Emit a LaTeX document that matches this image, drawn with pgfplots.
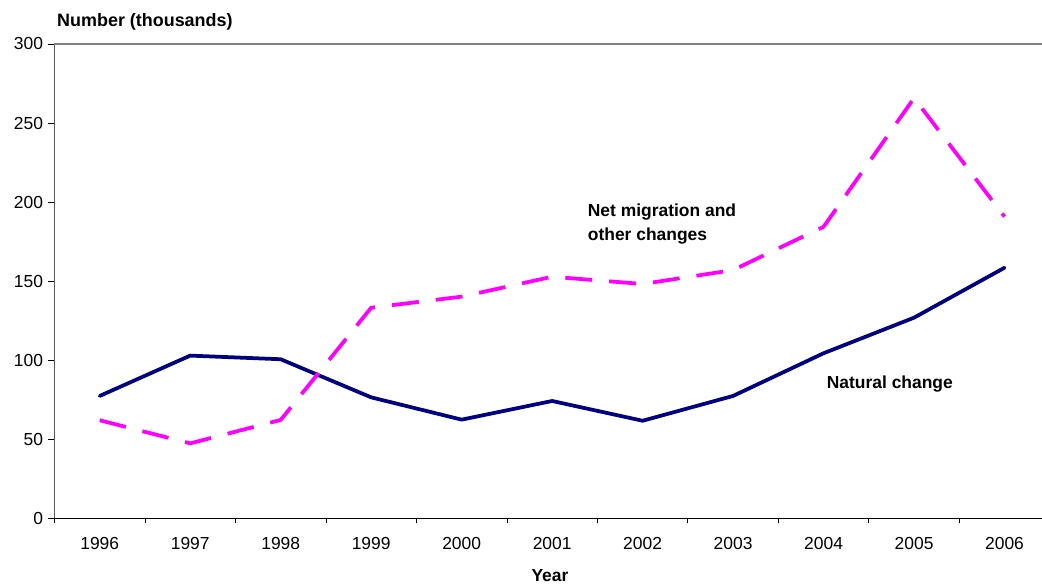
\documentclass[border=0pt]{standalone}
\usepackage{pgfplots}
\pgfplotsset{compat=1.18}
\usepackage{fontspec}
\setmainfont{Liberation Sans}

\definecolor{navyline}{RGB}{0,0,128}
\definecolor{magline}{RGB}{255,0,255}

\begin{document}
\begin{tikzpicture}
\begin{axis}[
  at={(54.5bp,66.7bp)}, anchor=south west,
  width=987.5bp, height=474.3bp, scale only axis,
  xmin=-0.5, xmax=10.414,
  ymin=0, ymax=300,
  clip=false,
  axis line style={draw=none},
  xtick={0,...,10},
  xticklabels={1996,1997,1998,1999,2000,2001,2002,2003,2004,2005,2006},
  major x tick style={draw=none},
  minor xtick={-0.5,0.5,...,9.5},
  minor x tick style={black, line width=0.8bp},
  minor tick length=5bp,
  ytick={0,50,...,300},
  major y tick style={black, line width=0.8bp},
  major tick length=6bp,
  tick align=outside,
  tick pos=left,
  xticklabel style={font=\fontsize{17.5}{21}\selectfont, yshift=-10bp},
  yticklabel style={font=\fontsize{17.5}{21}\selectfont, xshift=-2bp},
  /pgf/number format/assume math mode=true,
]
% frame of the plot area
\draw[gray!70!black, line width=1bp] (rel axis cs:0,0) -- (rel axis cs:0,1);
\draw[gray, line width=1.5bp] (rel axis cs:0,1) -- (rel axis cs:1,1);
\draw[black, line width=1bp] (rel axis cs:0,0) -- (rel axis cs:1,0);

% natural change
\addplot[navyline, line width=3.75bp, line join=round, line cap=round] coordinates {
  (0,77.4) (1,102.9) (2,100.6) (3,76.5) (4,62.4) (5,74.2)
  (6,61.7) (7,77.4) (8,104.4) (9,126.9) (10,158.5)
};
% net migration and other changes
\addplot[magline, line width=3.75bp, dash pattern=on 27bp off 17bp, line join=round] coordinates {
  (0,62.0) (1,47.4) (2,62.2) (3,133.2) (4,140.2) (5,152.8)
  (6,148.2) (7,157.0) (8,184.4) (9,265.8) (10,190.8)
};

\node[anchor=base west, font=\bfseries\fontsize{17.5}{21}\selectfont, inner sep=0pt]
  at (axis cs:5.393,190.7) {Net migration and};
\node[anchor=base west, font=\bfseries\fontsize{17.5}{21}\selectfont, inner sep=0pt]
  at (axis cs:5.393,176.0) {other changes};
\node[anchor=base west, font=\bfseries\fontsize{17.5}{21}\selectfont, inner sep=0pt]
  at (axis cs:8.034,81.8) {Natural change};
\node[anchor=base west, font=\bfseries\fontsize{18}{21}\selectfont, inner sep=0pt]
  at (axis cs:-0.472,310.8) {Number (thousands)};
\node[anchor=base, font=\bfseries\fontsize{17.5}{21}\selectfont, inner sep=0pt]
  at (axis cs:4.976,-40.2) {Year};
\end{axis}
\pgfresetboundingbox
\path[use as bounding box] (0,0) rectangle (1042bp,585bp);
\end{tikzpicture}
\end{document}
